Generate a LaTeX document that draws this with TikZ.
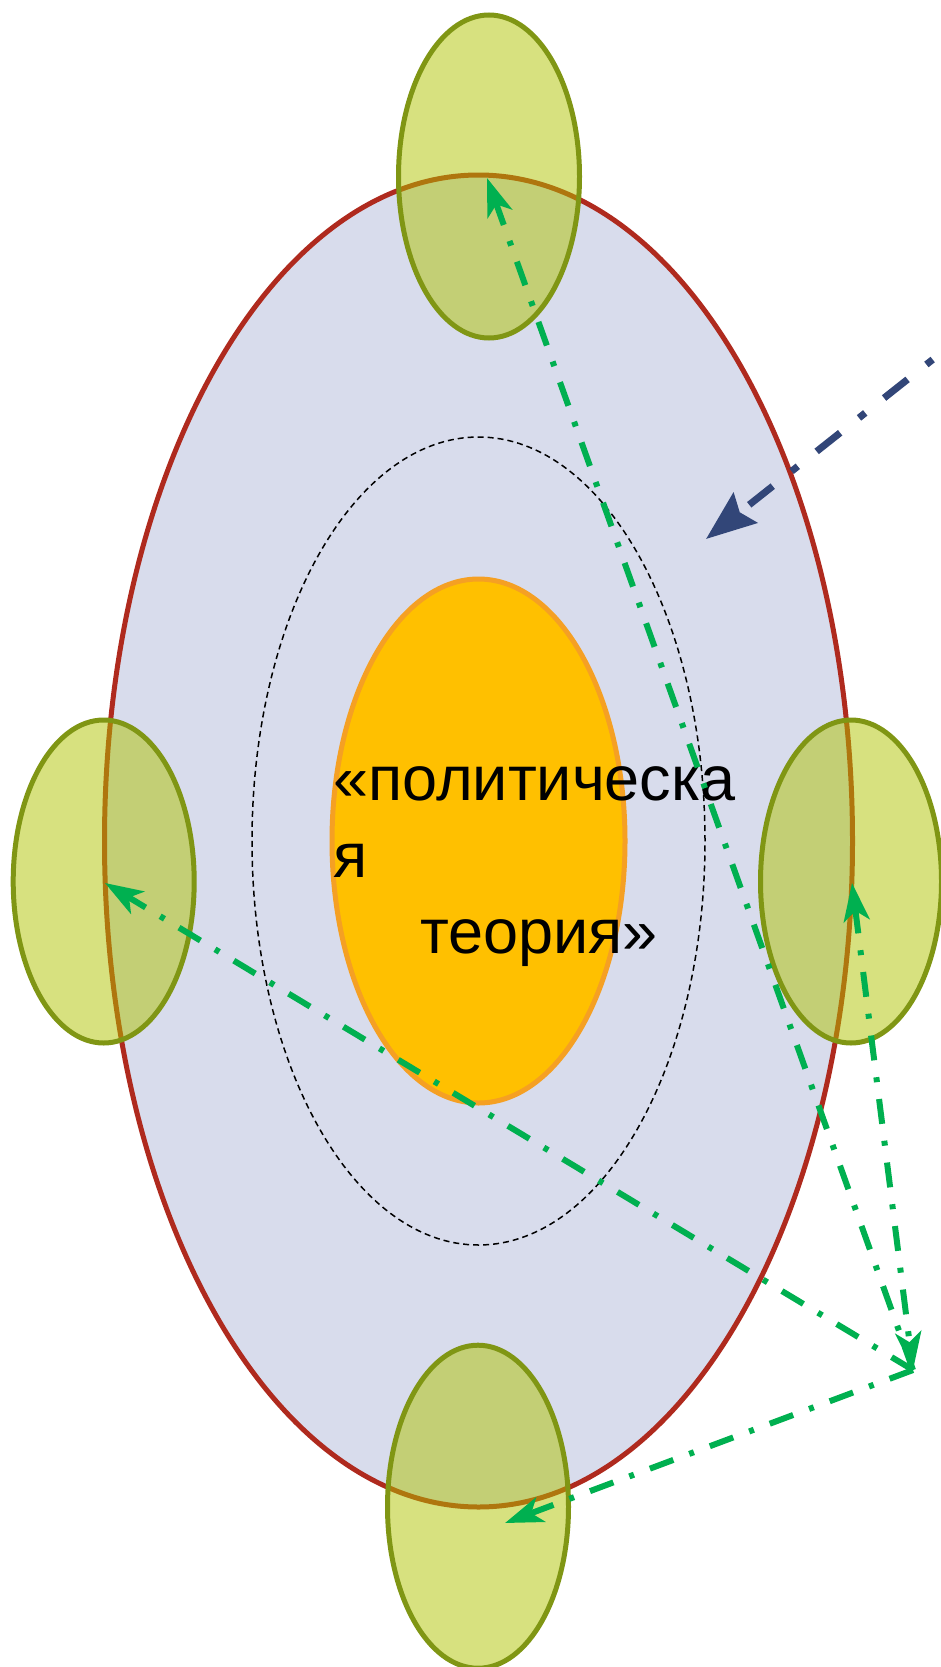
\documentclass[tikz,border=0pt]{standalone}
\usepackage{fontspec}
\setmainfont{Liberation Sans}
\usetikzlibrary{arrows.meta,shapes.geometric}
\definecolor{lav}{RGB}{216,220,236}
\definecolor{bigred}{RGB}{175,42,30}
\definecolor{core}{RGB}{255,192,0}
\definecolor{coreedge}{RGB}{245,160,35}
\definecolor{sat}{RGB}{175,195,0}
\definecolor{satedge}{RGB}{128,150,20}
\definecolor{ggreen}{RGB}{0,176,80}
\definecolor{navy}{RGB}{50,70,120}
\tikzset{
  satellite/.style={ellipse, draw=satedge, line width=5pt, fill=sat, fill opacity=0.5, draw opacity=1, minimum width=181pt, minimum height=323pt, inner sep=0pt},
  garrow/.style={draw=ggreen, line width=6pt, dash pattern=on 25pt off 17pt on 5pt off 17pt, -{Stealth[length=38pt,width=26pt,inset=10pt,fill=ggreen]}},
  narrow/.style={draw=navy, line width=7pt, dash pattern=on 30pt off 24pt on 8pt off 24pt, -{Stealth[length=50pt,width=38pt,inset=7pt,fill=navy]}},
  lbl/.style={anchor=base west, inner sep=0pt, font=\fontsize{63pt}{72pt}\selectfont}
}
\begin{document}
\begin{tikzpicture}[x=1pt,y=-1pt]
\clip (0,0) rectangle (941,1667);
% outer body
\node[ellipse, draw=bigred, line width=5pt, fill=lav, minimum width=748pt, minimum height=1332pt, inner sep=0pt] (body) at (478.5,841) {};
% dashed ring
\node[ellipse, draw=black, line width=1.5pt, dash pattern=on 6pt off 4pt, minimum width=453pt, minimum height=808pt, inner sep=0pt] (ring) at (478.5,841) {};
% core
\node[ellipse, draw=coreedge, line width=5pt, fill=core, minimum width=293pt, minimum height=524pt, inner sep=0pt] (core) at (478.5,841) {};
% text
\node[lbl] (t1) at (333,800) {«политическа};
\node[lbl] (t2) at (333,877) {я};
\node[lbl] (t3) at (420,953) {теория»};
% satellites
\node[satellite] (sTop) at (489,176.5) {};
\node[satellite] (sLeft) at (103.7,881.5) {};
\node[satellite] (sRight) at (851,881.5) {};
\node[satellite] (sBot) at (478,1506.7) {};
% connector ends
\coordinate (hub) at (913,1370);
\coordinate (tipT) at (487,178);
\coordinate (tipL) at (105,883);
\coordinate (tipR) at (852,883);
\coordinate (tipB) at (505,1523);
\coordinate (nStart) at (975,326);
\coordinate (nTip) at (706,539);
% green arrows
\draw[garrow] (hub) -- (tipT);
\draw[garrow] (hub) -- (tipL);
\draw[garrow, {Stealth[length=38pt,width=26pt,inset=10pt,fill=ggreen]}-{Stealth[length=38pt,width=26pt,inset=10pt,fill=ggreen]}] (tipR) -- (hub);
\draw[garrow] (hub) -- (tipB);
% navy arrow
\draw[narrow] (nStart) -- (nTip);
\end{tikzpicture}
\end{document}
